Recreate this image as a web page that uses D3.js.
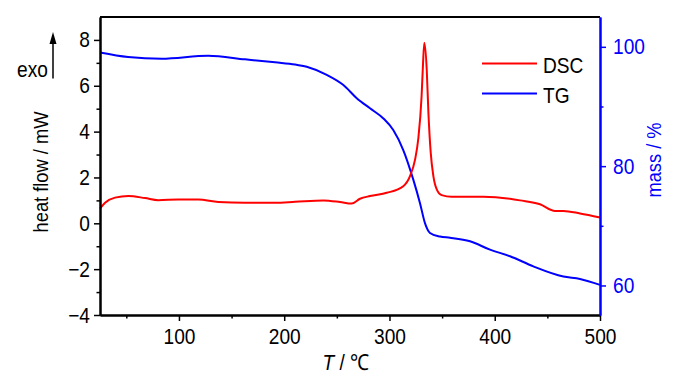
<!DOCTYPE html>
<html>
<head>
<meta charset="utf-8">
<script src="https://cdn.jsdelivr.net/npm/d3@7"></script>
<style>
  body { margin: 0; background: #fff; }
  svg { font-family: "Liberation Sans", Arial, sans-serif; }
</style>
</head>
<body>
<svg id="chart" width="700" height="374"></svg>
<script>
// DSC heat flow (mW) vs temperature
const dscT = [25, 29.8, 39.3, 51.9, 67.8, 80.4, 99.4, 118.4, 137.4, 162.8, 191.3, 210.3, 237.2, 253, 264.1, 272, 281.5, 297.4, 313.1, 319.5, 324.3, 327.4, 330.5, 331.9, 333.1, 335.4, 337, 339.2, 341.7, 344.9, 349.6, 359, 389.2, 414.5, 424, 443, 457.3, 465.2, 481, 500]
const dscV = [0.64, 0.9, 1.12, 1.19, 1.1, 1.01, 1.04, 1.04, 0.93, 0.9, 0.9, 0.94, 1.0, 0.93, 0.86, 1.07, 1.19, 1.33, 1.62, 2.06, 2.78, 3.7, 5.53, 6.99, 7.88, 6.7, 4.81, 3.07, 2.06, 1.48, 1.23, 1.16, 1.16, 1.07, 1.0, 0.83, 0.54, 0.54, 0.43, 0.25]

// TG mass (%) vs temperature
const tgT = [25, 51.6, 83.6, 127.9, 162.8, 191.3, 210.3, 221.4, 240.4, 256.2, 268.9, 281.5, 294.2, 303.6, 313.1, 322.7, 329, 333.8, 338.5, 348, 357.5, 376.5, 395.5, 414.5, 436.7, 465.2, 481, 500]
const tgV = [99.06, 98.3, 98.0, 98.5, 97.9, 97.4, 97.05, 96.65, 95.3, 93.6, 91.4, 89.7, 88.0, 86.06, 82.7, 77.7, 73.8, 70.4, 68.8, 68.2, 68.0, 67.4, 66.0, 64.9, 63.2, 61.5, 61.1, 60.1]

const xTicks = [100, 200, 300, 400, 500]
const xMinor = [50, 150, 250, 350, 450]
const yTicks = [-4, -2, 0, 2, 4, 6, 8]
const yMinor = [-3, -1, 1, 3, 5, 7]
const y2Ticks = [60, 80, 100]
const y2Minor = [70, 90]

const m = {left: 100, right: 600, top: 17, bottom: 315}
const sq = 0.87 // the original font is a bit narrow
const svg = d3.select('#chart')

let x = d3.scaleLinear().domain([25, 500]).range([m.left, m.right])
let y = d3.scaleLinear().domain([-4, 9]).range([m.bottom, m.top])
let y2 = d3.scaleLinear().domain([55.05, 105]).range([m.bottom, m.top])

// text placed at (px,py), narrowed
let label = (px, py, rot, size, color) => {
  let g = svg.append('g').attr('transform', `translate(${px},${py}) rotate(${rot})`)
  return g.append('text').attr('transform', `scale(${sq},1)`)
    .attr('font-size', size).attr('fill', color)
}

// curves
let dscLine = d3.line().x((d, i) => x(dscT[i])).y(d => y(d)).curve(d3.curveMonotoneX)
let tgLine = d3.line().x((d, i) => x(tgT[i])).y(d => y2(d)).curve(d3.curveMonotoneX)

svg.append('path').attr('d', tgLine(tgV)).attr('fill', 'none')
  .attr('stroke', '#0000ff').attr('stroke-width', 2)
svg.append('path').attr('d', dscLine(dscV)).attr('fill', 'none')
  .attr('stroke', '#ff0000').attr('stroke-width', 2)

// frame
svg.append('line').attr('x1', m.left).attr('x2', m.right).attr('y1', m.top).attr('y2', m.top)
  .attr('stroke', '#000').attr('stroke-width', 2)

// bottom axis
let gx = svg.append('g').attr('transform', `translate(0,${m.bottom})`)
gx.call(d3.axisBottom(x).tickValues(xTicks).tickSize(6).tickSizeOuter(0))
gx.append('g').call(d3.axisBottom(x).tickValues(xMinor).tickSize(3.5).tickFormat('').tickSizeOuter(0))
gx.selectAll('.domain').attr('stroke', '#000').attr('stroke-width', 2)
gx.selectAll('.tick line').attr('stroke-width', 1.5)
gx.selectAll('.tick text').attr('font-size', 22).attr('fill', '#000')
  .attr('y', 29).attr('dy', 0).attr('transform', `scale(${sq},1)`)

// left axis
let gy = svg.append('g').attr('transform', `translate(${m.left},0)`)
gy.call(d3.axisLeft(y).tickValues(yTicks).tickSize(6).tickSizeOuter(0))
gy.append('g').call(d3.axisLeft(y).tickValues(yMinor).tickSize(3.5).tickFormat('').tickSizeOuter(0))
gy.selectAll('.domain').attr('stroke', '#000').attr('stroke-width', 2)
gy.selectAll('.tick line').attr('stroke-width', 1.5)
gy.selectAll('.tick text').attr('font-size', 22).attr('fill', '#000')
  .attr('x', -10 / sq).attr('transform', `scale(${sq},1)`)

// right axis
let gy2 = svg.append('g').attr('transform', `translate(${m.right},0)`)
gy2.call(d3.axisRight(y2).tickValues(y2Ticks).tickSize(6).tickSizeOuter(0))
gy2.append('g').call(d3.axisRight(y2).tickValues(y2Minor).tickSize(3.5).tickFormat('').tickSizeOuter(0))
gy2.selectAll('.domain').attr('stroke', '#0000ff').attr('stroke-width', 2)
gy2.selectAll('.tick line').attr('stroke', '#0000ff').attr('stroke-width', 1.5)
gy2.selectAll('.tick text').attr('font-size', 22).attr('fill', '#0000ff')
  .attr('x', 13 / sq).attr('transform', `scale(${sq},1)`)

// axis titles
let xt = label(346, 370, 0, 22, '#000').attr('text-anchor', 'middle')
xt.append('tspan').attr('font-style', 'italic').text('T')
xt.append('tspan').text(' / ℃')

label(48, 172, -90, 21, '#000').attr('text-anchor', 'middle').text('heat flow / mW')
label(661, 160, -90, 21, '#0000ff').attr('text-anchor', 'middle').text('mass / %')

// exo arrow
label(17, 77, 0, 22, '#000').text('exo')
svg.append('line').attr('x1', 53).attr('x2', 53).attr('y1', 78.5).attr('y2', 40)
  .attr('stroke', '#000').attr('stroke-width', 1.5)
svg.append('path').attr('d', 'M53,32 L49.5,44 L56.5,44 Z').attr('fill', '#000')

// legend
const legend = [['DSC', '#ff0000'], ['TG', '#0000ff']]
legend.forEach((d, i) => {
  let ly = 63.5 + i * 30
  svg.append('line').attr('x1', 482).attr('x2', 537).attr('y1', ly).attr('y2', ly)
    .attr('stroke', d[1]).attr('stroke-width', 2)
  label(543, ly + 9, 0, 22, '#000').text(d[0])
})
</script>
</body>
</html>
